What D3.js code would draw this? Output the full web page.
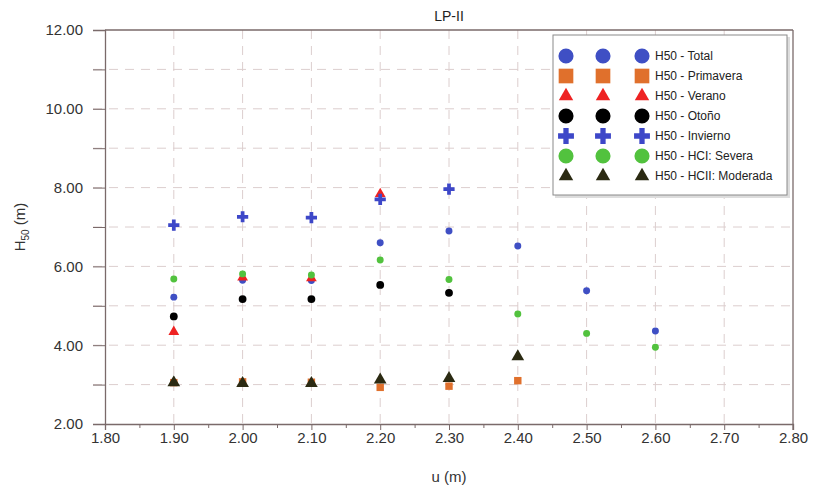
<!DOCTYPE html>
<html>
<head>
<meta charset="utf-8">
<script src="https://cdn.jsdelivr.net/npm/d3@7"></script>
<style>
  body { margin: 0; background: #fff; }
  svg { display: block; font-family: "Liberation Sans", Arial, sans-serif; }
</style>
</head>
<body>
<svg id="chart" width="814" height="488"></svg>
<script>
// H50 values per wave height u for each series
const uValues = [1.90, 2.00, 2.10, 2.20, 2.30, 2.40, 2.50, 2.60];
const total     = [5.22, 5.65, 5.64, 6.60, 6.90, 6.52, 5.38, 4.36];
const primavera = [3.05, 3.07, 3.06, 2.93, 2.96, 3.10];
const verano    = [4.34, 5.72, 5.70, 7.84];
const otono     = [4.73, 5.17, 5.17, 5.53, 5.33];
const invierno  = [7.05, 7.26, 7.24, 7.70, 7.96];
const severa    = [5.68, 5.81, 5.78, 6.16, 5.67, 4.79, 4.30, 3.95];
const moderada  = [3.05, 3.03, 3.03, 3.12, 3.16, 3.71];

const xTicks = [1.80, 1.90, 2.00, 2.10, 2.20, 2.30, 2.40, 2.50, 2.60, 2.70, 2.80];
const yTicks = [2, 4, 6, 8, 10, 12];

const seriesNames = [
  "H50 - Total", "H50 - Primavera", "H50 - Verano", "H50 - Otoño",
  "H50 - Invierno", "H50 - HCI: Severa", "H50 - HCII: Moderada"
];
const seriesValues = [total, primavera, verano, otono, invierno, severa, moderada];

// marker style per series: shape, colour, plot size, legend size
const styles = [
  { shape: d3.symbolCircle,   color: "#3f4fc4", size: 38,  lsize: 180 },
  { shape: d3.symbolSquare,   color: "#e0702c", size: 55,  lsize: 215 },
  { shape: d3.symbolTriangle, color: "#ee2222", size: 50,  lsize: 90 },
  { shape: d3.symbolCircle,   color: "#000000", size: 48,  lsize: 180 },
  { shape: d3.symbolCross,    color: "#3d47c8", size: 70,  lsize: 140 },
  { shape: d3.symbolCircle,   color: "#52c23e", size: 38,  lsize: 180 },
  { shape: d3.symbolTriangle, color: "#2b2a12", size: 70,  lsize: 90 }
];

const svg = d3.select("#chart");
const margin = { left: 105, right: 21, top: 30, bottom: 64 };
const W = 814, H = 488;
const x = d3.scaleLinear().domain([1.8, 2.8]).range([margin.left, W - margin.right]);
const y = d3.scaleLinear().domain([2, 12]).range([H - margin.bottom, margin.top]);

const axisColor = "#7a6a6a";
const gridColor = "#dccece";

// dashed grid
const g = svg.append("g");
d3.range(3, 12, 1).forEach(v => {
  g.append("line")
    .attr("x1", x(1.8) - 12).attr("x2", x(2.8))
    .attr("y1", y(v)).attr("y2", y(v))
    .attr("stroke", gridColor).attr("stroke-width", 1)
    .attr("stroke-dasharray", "9,7");
});
xTicks.slice(1, -1).forEach(v => {
  g.append("line")
    .attr("x1", x(v)).attr("x2", x(v))
    .attr("y1", y(12)).attr("y2", y(2))
    .attr("stroke", gridColor).attr("stroke-width", 1)
    .attr("stroke-dasharray", "9,7");
});

// axes
const yAxis = d3.axisLeft(y).tickValues(yTicks).tickFormat(d3.format(".2f")).tickSize(12).tickPadding(10);
const yMinor = d3.axisLeft(y).tickValues(d3.range(3, 12, 2)).tickFormat("").tickSize(12);
const xAxis = d3.axisBottom(x).tickValues(xTicks).tickFormat(d3.format(".2f")).tickSize(6).tickPadding(2);
const xMinor = d3.axisBottom(x).tickValues(d3.range(1.85, 2.8, 0.1)).tickFormat("").tickSize(4);

function styleAxis(sel) {
  sel.select(".domain").attr("stroke", axisColor).attr("stroke-width", 1.3);
  sel.selectAll(".tick line").attr("stroke", axisColor);
  sel.selectAll(".tick text").attr("fill", "#333").style("font-size", "15px");
}

svg.append("g").attr("transform", `translate(${margin.left},0)`).call(yAxis).call(styleAxis);
svg.append("g").attr("transform", `translate(${margin.left},0)`).call(yMinor).call(styleAxis)
  .select(".domain").remove();
svg.append("g").attr("transform", `translate(0,${H - margin.bottom})`).call(xAxis).call(styleAxis);
svg.append("g").attr("transform", `translate(0,${H - margin.bottom})`).call(xMinor).call(styleAxis)
  .select(".domain").remove();
svg.selectAll(".tick text").attr("font-family", "Liberation Sans, Arial, sans-serif");

// top and right frame
svg.append("line").attr("x1", x(1.8)).attr("x2", x(2.8)).attr("y1", y(12)).attr("y2", y(12))
  .attr("stroke", axisColor).attr("stroke-width", 1.3);
svg.append("line").attr("x1", x(2.8)).attr("x2", x(2.8)).attr("y1", y(12)).attr("y2", y(2) + 6)
  .attr("stroke", axisColor).attr("stroke-width", 1.3);

// title and axis labels
svg.append("text").attr("x", (x(1.8) + x(2.8)) / 2).attr("y", 21)
  .attr("text-anchor", "middle").attr("fill", "#222").style("font-size", "14px").text("LP-II");
svg.append("text").attr("x", (x(1.8) + x(2.8)) / 2).attr("y", 482)
  .attr("text-anchor", "middle").attr("fill", "#333").style("font-size", "15px").text("u (m)");
const yl = svg.append("text").attr("transform", `translate(25,${y(7)}) rotate(-90)`)
  .attr("text-anchor", "middle").attr("fill", "#333").style("font-size", "15px");
yl.append("tspan").text("H");
yl.append("tspan").attr("dy", 4).style("font-size", "10px").text("50");
yl.append("tspan").attr("dy", -4).text(" (m)");

// data points
const sym = d3.symbol();
seriesValues.forEach((vals, i) => {
  const s = styles[i];
  svg.append("g").selectAll("path").data(vals).join("path")
    .attr("transform", (d, j) => `translate(${x(uValues[j])},${y(d)})`)
    .attr("d", sym.type(s.shape).size(s.size)())
    .attr("fill", s.color);
});

// legend
const lg = svg.append("g").attr("transform", "translate(553,35)");
lg.append("rect").attr("x", 2).attr("y", 2).attr("width", 235).attr("height", 161).attr("fill", "#ddd");
lg.append("rect").attr("width", 234).attr("height", 160).attr("fill", "#fff")
  .attr("stroke", "#8a8a8a").attr("stroke-width", 1);
const markerX = [13, 50, 89];
seriesNames.forEach((name, i) => {
  const s = styles[i];
  const cy = 21 + i * 20;
  markerX.forEach(mx => {
    lg.append("path").attr("transform", `translate(${mx},${cy})`)
      .attr("d", d3.symbol().type(s.shape).size(s.lsize)())
      .attr("fill", s.color);
  });
  lg.append("text").attr("x", 102).attr("y", cy + 4)
    .attr("fill", "#222").style("font-size", "12px").text(name);
});
</script>
</body>
</html>
